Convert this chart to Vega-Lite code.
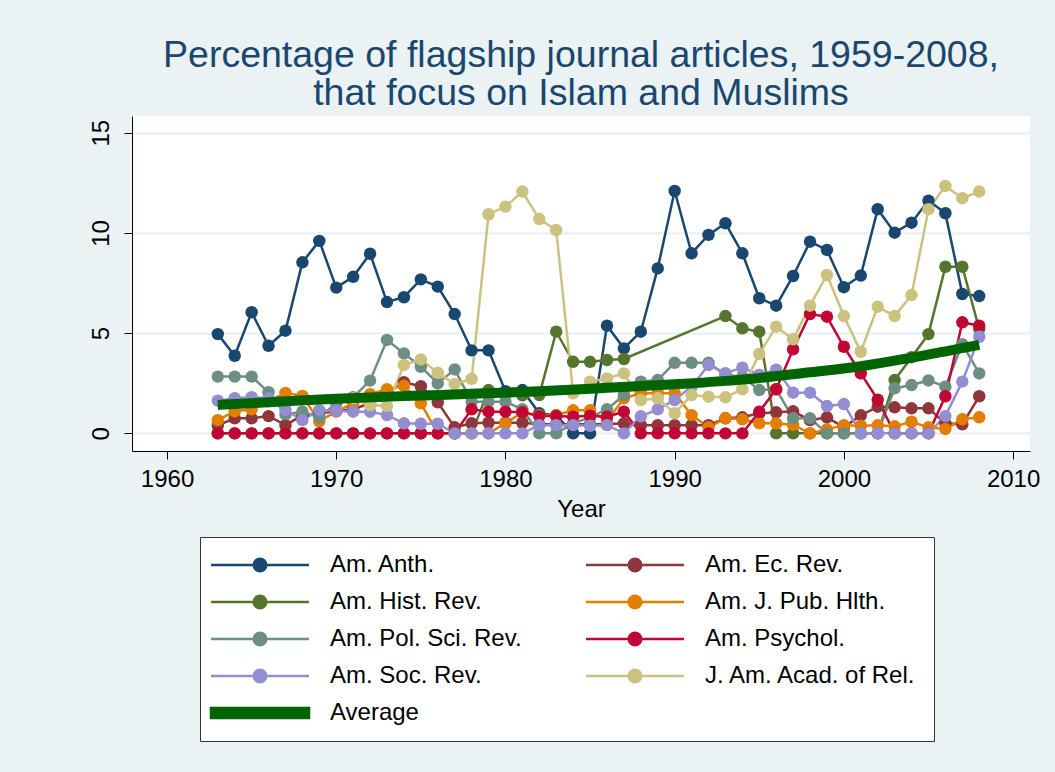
{
  "$schema": "https://vega.github.io/schema/vega-lite/v6.json",
  "autosize": {"type": "none"},
  "width": 898,
  "height": 335,
  "padding": {"left": 132, "top": 116, "right": 25, "bottom": 321},
  "background": "#EAF2F3",
  "title": {
    "text": ["Percentage of flagship journal articles, 1959-2008,", "that focus on Islam and Muslims"],
    "anchor": "middle",
    "frame": "group",
    "font": "Liberation Sans",
    "fontSize": 37.5,
    "fontWeight": "normal",
    "color": "#1A476F",
    "lineHeight": 38,
    "offset": 4
  },
  "config": {
    "view": {"fill": "white", "stroke": null},
    "font": "Liberation Sans"
  },
  "datasets": {
    "rows": [
      {"journal":"Am. Anth.","year":1963,"pct":4.95},{"journal":"Am. Anth.","year":1964,"pct":3.87},{"journal":"Am. Anth.","year":1965,"pct":6.04},{"journal":"Am. Anth.","year":1966,"pct":4.37},{"journal":"Am. Anth.","year":1967,"pct":5.12},{"journal":"Am. Anth.","year":1968,"pct":8.53},{"journal":"Am. Anth.","year":1969,"pct":9.6},{"journal":"Am. Anth.","year":1970,"pct":7.27},{"journal":"Am. Anth.","year":1971,"pct":7.81},{"journal":"Am. Anth.","year":1972,"pct":8.96},{"journal":"Am. Anth.","year":1973,"pct":6.55},{"journal":"Am. Anth.","year":1974,"pct":6.79},{"journal":"Am. Anth.","year":1975,"pct":7.68},{"journal":"Am. Anth.","year":1976,"pct":7.32},{"journal":"Am. Anth.","year":1977,"pct":5.95},{"journal":"Am. Anth.","year":1978,"pct":4.14},{"journal":"Am. Anth.","year":1979,"pct":4.14},{"journal":"Am. Anth.","year":1980,"pct":2.1},{"journal":"Am. Anth.","year":1981,"pct":2.16},{"journal":"Am. Anth.","year":1982,"pct":1.0},{"journal":"Am. Anth.","year":1983,"pct":0.9},{"journal":"Am. Anth.","year":1984,"pct":0},{"journal":"Am. Anth.","year":1985,"pct":0},{"journal":"Am. Anth.","year":1986,"pct":5.37},{"journal":"Am. Anth.","year":1987,"pct":4.24},{"journal":"Am. Anth.","year":1988,"pct":5.07},{"journal":"Am. Anth.","year":1989,"pct":8.23},{"journal":"Am. Anth.","year":1990,"pct":12.09},{"journal":"Am. Anth.","year":1991,"pct":8.98},{"journal":"Am. Anth.","year":1992,"pct":9.9},{"journal":"Am. Anth.","year":1993,"pct":10.48},{"journal":"Am. Anth.","year":1994,"pct":8.98},{"journal":"Am. Anth.","year":1995,"pct":6.74},{"journal":"Am. Anth.","year":1996,"pct":6.37},{"journal":"Am. Anth.","year":1997,"pct":7.85},{"journal":"Am. Anth.","year":1998,"pct":9.56},{"journal":"Am. Anth.","year":1999,"pct":9.15},{"journal":"Am. Anth.","year":2000,"pct":7.29},{"journal":"Am. Anth.","year":2001,"pct":7.87},{"journal":"Am. Anth.","year":2002,"pct":11.18},{"journal":"Am. Anth.","year":2003,"pct":10.01},{"journal":"Am. Anth.","year":2004,"pct":10.51},{"journal":"Am. Anth.","year":2005,"pct":11.61},{"journal":"Am. Anth.","year":2006,"pct":10.98},{"journal":"Am. Anth.","year":2007,"pct":6.95},{"journal":"Am. Anth.","year":2008,"pct":6.85},

      {"journal":"Am. Ec. Rev.","year":1963,"pct":0.4},{"journal":"Am. Ec. Rev.","year":1964,"pct":0.75},{"journal":"Am. Ec. Rev.","year":1965,"pct":0.75},{"journal":"Am. Ec. Rev.","year":1966,"pct":0.86},{"journal":"Am. Ec. Rev.","year":1967,"pct":0.41},{"journal":"Am. Ec. Rev.","year":1968,"pct":0.9},{"journal":"Am. Ec. Rev.","year":1969,"pct":1.0},{"journal":"Am. Ec. Rev.","year":1970,"pct":1.1},{"journal":"Am. Ec. Rev.","year":1971,"pct":1.2},{"journal":"Am. Ec. Rev.","year":1972,"pct":1.5},{"journal":"Am. Ec. Rev.","year":1973,"pct":2.0},{"journal":"Am. Ec. Rev.","year":1974,"pct":2.55},{"journal":"Am. Ec. Rev.","year":1975,"pct":2.35},{"journal":"Am. Ec. Rev.","year":1976,"pct":1.55},{"journal":"Am. Ec. Rev.","year":1977,"pct":0.3},{"journal":"Am. Ec. Rev.","year":1978,"pct":0.5},{"journal":"Am. Ec. Rev.","year":1979,"pct":0.53},{"journal":"Am. Ec. Rev.","year":1980,"pct":0.53},{"journal":"Am. Ec. Rev.","year":1981,"pct":0.53},{"journal":"Am. Ec. Rev.","year":1982,"pct":0.45},{"journal":"Am. Ec. Rev.","year":1983,"pct":0.45},{"journal":"Am. Ec. Rev.","year":1984,"pct":0.45},{"journal":"Am. Ec. Rev.","year":1985,"pct":0.45},{"journal":"Am. Ec. Rev.","year":1986,"pct":0.45},{"journal":"Am. Ec. Rev.","year":1987,"pct":0.5},{"journal":"Am. Ec. Rev.","year":1988,"pct":0.41},{"journal":"Am. Ec. Rev.","year":1989,"pct":0.41},{"journal":"Am. Ec. Rev.","year":1990,"pct":0.41},{"journal":"Am. Ec. Rev.","year":1991,"pct":0.41},{"journal":"Am. Ec. Rev.","year":1992,"pct":0.41},{"journal":"Am. Ec. Rev.","year":1993,"pct":0.75},{"journal":"Am. Ec. Rev.","year":1994,"pct":0.8},{"journal":"Am. Ec. Rev.","year":1995,"pct":1.0},{"journal":"Am. Ec. Rev.","year":1996,"pct":1.05},{"journal":"Am. Ec. Rev.","year":1997,"pct":1.1},{"journal":"Am. Ec. Rev.","year":1998,"pct":0.66},{"journal":"Am. Ec. Rev.","year":1999,"pct":0.8},{"journal":"Am. Ec. Rev.","year":2000,"pct":0.3},{"journal":"Am. Ec. Rev.","year":2001,"pct":0.9},{"journal":"Am. Ec. Rev.","year":2002,"pct":1.33},{"journal":"Am. Ec. Rev.","year":2003,"pct":1.3},{"journal":"Am. Ec. Rev.","year":2004,"pct":1.25},{"journal":"Am. Ec. Rev.","year":2005,"pct":1.25},{"journal":"Am. Ec. Rev.","year":2006,"pct":0.5},{"journal":"Am. Ec. Rev.","year":2007,"pct":0.45},{"journal":"Am. Ec. Rev.","year":2008,"pct":1.85},

      {"journal":"Am. Hist. Rev.","year":1963,"pct":0},{"journal":"Am. Hist. Rev.","year":1964,"pct":0},{"journal":"Am. Hist. Rev.","year":1965,"pct":0},{"journal":"Am. Hist. Rev.","year":1966,"pct":0},{"journal":"Am. Hist. Rev.","year":1967,"pct":0},{"journal":"Am. Hist. Rev.","year":1968,"pct":0},{"journal":"Am. Hist. Rev.","year":1969,"pct":0},{"journal":"Am. Hist. Rev.","year":1970,"pct":0},{"journal":"Am. Hist. Rev.","year":1971,"pct":0},{"journal":"Am. Hist. Rev.","year":1972,"pct":0},{"journal":"Am. Hist. Rev.","year":1973,"pct":0},{"journal":"Am. Hist. Rev.","year":1974,"pct":0},{"journal":"Am. Hist. Rev.","year":1975,"pct":0},{"journal":"Am. Hist. Rev.","year":1976,"pct":0},{"journal":"Am. Hist. Rev.","year":1977,"pct":0},{"journal":"Am. Hist. Rev.","year":1978,"pct":0},{"journal":"Am. Hist. Rev.","year":1979,"pct":2.16},{"journal":"Am. Hist. Rev.","year":1980,"pct":1.95},{"journal":"Am. Hist. Rev.","year":1981,"pct":1.9},{"journal":"Am. Hist. Rev.","year":1982,"pct":1.91},{"journal":"Am. Hist. Rev.","year":1983,"pct":5.07},{"journal":"Am. Hist. Rev.","year":1984,"pct":3.57},{"journal":"Am. Hist. Rev.","year":1985,"pct":3.57},{"journal":"Am. Hist. Rev.","year":1986,"pct":3.66},{"journal":"Am. Hist. Rev.","year":1987,"pct":3.71},{"journal":"Am. Hist. Rev.","year":1993,"pct":5.85},{"journal":"Am. Hist. Rev.","year":1994,"pct":5.24},{"journal":"Am. Hist. Rev.","year":1995,"pct":5.07},{"journal":"Am. Hist. Rev.","year":1996,"pct":0},{"journal":"Am. Hist. Rev.","year":1997,"pct":0},{"journal":"Am. Hist. Rev.","year":1998,"pct":0},{"journal":"Am. Hist. Rev.","year":1999,"pct":0},{"journal":"Am. Hist. Rev.","year":2000,"pct":0},{"journal":"Am. Hist. Rev.","year":2001,"pct":0},{"journal":"Am. Hist. Rev.","year":2002,"pct":0},{"journal":"Am. Hist. Rev.","year":2003,"pct":2.66},{"journal":"Am. Hist. Rev.","year":2004,"pct":3.8},{"journal":"Am. Hist. Rev.","year":2005,"pct":4.95},{"journal":"Am. Hist. Rev.","year":2006,"pct":8.31},{"journal":"Am. Hist. Rev.","year":2007,"pct":8.31},{"journal":"Am. Hist. Rev.","year":2008,"pct":5.2},

      {"journal":"Am. J. Pub. Hlth.","year":1963,"pct":0.66},{"journal":"Am. J. Pub. Hlth.","year":1964,"pct":1.1},{"journal":"Am. J. Pub. Hlth.","year":1965,"pct":1.2},{"journal":"Am. J. Pub. Hlth.","year":1966,"pct":1.6},{"journal":"Am. J. Pub. Hlth.","year":1967,"pct":2.02},{"journal":"Am. J. Pub. Hlth.","year":1968,"pct":1.87},{"journal":"Am. J. Pub. Hlth.","year":1969,"pct":0.6},{"journal":"Am. J. Pub. Hlth.","year":1970,"pct":1.1},{"journal":"Am. J. Pub. Hlth.","year":1971,"pct":1.5},{"journal":"Am. J. Pub. Hlth.","year":1972,"pct":1.95},{"journal":"Am. J. Pub. Hlth.","year":1973,"pct":2.2},{"journal":"Am. J. Pub. Hlth.","year":1974,"pct":2.37},{"journal":"Am. J. Pub. Hlth.","year":1975,"pct":1.5},{"journal":"Am. J. Pub. Hlth.","year":1976,"pct":0},{"journal":"Am. J. Pub. Hlth.","year":1977,"pct":0},{"journal":"Am. J. Pub. Hlth.","year":1978,"pct":0},{"journal":"Am. J. Pub. Hlth.","year":1979,"pct":0},{"journal":"Am. J. Pub. Hlth.","year":1980,"pct":0.5},{"journal":"Am. J. Pub. Hlth.","year":1981,"pct":1.05},{"journal":"Am. J. Pub. Hlth.","year":1982,"pct":0.9},{"journal":"Am. J. Pub. Hlth.","year":1983,"pct":0.9},{"journal":"Am. J. Pub. Hlth.","year":1984,"pct":1.15},{"journal":"Am. J. Pub. Hlth.","year":1985,"pct":1.15},{"journal":"Am. J. Pub. Hlth.","year":1986,"pct":0.6},{"journal":"Am. J. Pub. Hlth.","year":1987,"pct":1.75},{"journal":"Am. J. Pub. Hlth.","year":1988,"pct":2.0},{"journal":"Am. J. Pub. Hlth.","year":1989,"pct":2.0},{"journal":"Am. J. Pub. Hlth.","year":1990,"pct":2.0},{"journal":"Am. J. Pub. Hlth.","year":1991,"pct":0.91},{"journal":"Am. J. Pub. Hlth.","year":1992,"pct":0.3},{"journal":"Am. J. Pub. Hlth.","year":1993,"pct":0.75},{"journal":"Am. J. Pub. Hlth.","year":1994,"pct":0.7},{"journal":"Am. J. Pub. Hlth.","year":1995,"pct":0.5},{"journal":"Am. J. Pub. Hlth.","year":1996,"pct":0.5},{"journal":"Am. J. Pub. Hlth.","year":1997,"pct":0.42},{"journal":"Am. J. Pub. Hlth.","year":1998,"pct":0},{"journal":"Am. J. Pub. Hlth.","year":1999,"pct":0.2},{"journal":"Am. J. Pub. Hlth.","year":2000,"pct":0.41},{"journal":"Am. J. Pub. Hlth.","year":2001,"pct":0.38},{"journal":"Am. J. Pub. Hlth.","year":2002,"pct":0.4},{"journal":"Am. J. Pub. Hlth.","year":2003,"pct":0.35},{"journal":"Am. J. Pub. Hlth.","year":2004,"pct":0.58},{"journal":"Am. J. Pub. Hlth.","year":2005,"pct":0.3},{"journal":"Am. J. Pub. Hlth.","year":2006,"pct":0.22},{"journal":"Am. J. Pub. Hlth.","year":2007,"pct":0.7},{"journal":"Am. J. Pub. Hlth.","year":2008,"pct":0.8},

      {"journal":"Am. Pol. Sci. Rev.","year":1963,"pct":2.83},{"journal":"Am. Pol. Sci. Rev.","year":1964,"pct":2.83},{"journal":"Am. Pol. Sci. Rev.","year":1965,"pct":2.83},{"journal":"Am. Pol. Sci. Rev.","year":1966,"pct":2.05},{"journal":"Am. Pol. Sci. Rev.","year":1967,"pct":0.95},{"journal":"Am. Pol. Sci. Rev.","year":1968,"pct":1.08},{"journal":"Am. Pol. Sci. Rev.","year":1969,"pct":0.8},{"journal":"Am. Pol. Sci. Rev.","year":1970,"pct":1.5},{"journal":"Am. Pol. Sci. Rev.","year":1971,"pct":1.8},{"journal":"Am. Pol. Sci. Rev.","year":1972,"pct":2.63},{"journal":"Am. Pol. Sci. Rev.","year":1973,"pct":4.66},{"journal":"Am. Pol. Sci. Rev.","year":1974,"pct":3.99},{"journal":"Am. Pol. Sci. Rev.","year":1975,"pct":3.32},{"journal":"Am. Pol. Sci. Rev.","year":1976,"pct":2.49},{"journal":"Am. Pol. Sci. Rev.","year":1977,"pct":3.19},{"journal":"Am. Pol. Sci. Rev.","year":1978,"pct":1.58},{"journal":"Am. Pol. Sci. Rev.","year":1979,"pct":1.58},{"journal":"Am. Pol. Sci. Rev.","year":1980,"pct":1.58},{"journal":"Am. Pol. Sci. Rev.","year":1981,"pct":1.2},{"journal":"Am. Pol. Sci. Rev.","year":1982,"pct":0},{"journal":"Am. Pol. Sci. Rev.","year":1983,"pct":0},{"journal":"Am. Pol. Sci. Rev.","year":1984,"pct":0.5},{"journal":"Am. Pol. Sci. Rev.","year":1985,"pct":0.8},{"journal":"Am. Pol. Sci. Rev.","year":1986,"pct":1.2},{"journal":"Am. Pol. Sci. Rev.","year":1987,"pct":1.9},{"journal":"Am. Pol. Sci. Rev.","year":1988,"pct":2.58},{"journal":"Am. Pol. Sci. Rev.","year":1989,"pct":2.66},{"journal":"Am. Pol. Sci. Rev.","year":1990,"pct":3.52},{"journal":"Am. Pol. Sci. Rev.","year":1991,"pct":3.52},{"journal":"Am. Pol. Sci. Rev.","year":1992,"pct":3.52},{"journal":"Am. Pol. Sci. Rev.","year":1993,"pct":2.91},{"journal":"Am. Pol. Sci. Rev.","year":1994,"pct":2.83},{"journal":"Am. Pol. Sci. Rev.","year":1995,"pct":2.16},{"journal":"Am. Pol. Sci. Rev.","year":1996,"pct":2.2},{"journal":"Am. Pol. Sci. Rev.","year":1997,"pct":0.75},{"journal":"Am. Pol. Sci. Rev.","year":1998,"pct":0.75},{"journal":"Am. Pol. Sci. Rev.","year":1999,"pct":0},{"journal":"Am. Pol. Sci. Rev.","year":2000,"pct":0},{"journal":"Am. Pol. Sci. Rev.","year":2001,"pct":0},{"journal":"Am. Pol. Sci. Rev.","year":2002,"pct":0},{"journal":"Am. Pol. Sci. Rev.","year":2003,"pct":2.25},{"journal":"Am. Pol. Sci. Rev.","year":2004,"pct":2.41},{"journal":"Am. Pol. Sci. Rev.","year":2005,"pct":2.64},{"journal":"Am. Pol. Sci. Rev.","year":2006,"pct":2.33},{"journal":"Am. Pol. Sci. Rev.","year":2007,"pct":4.45},{"journal":"Am. Pol. Sci. Rev.","year":2008,"pct":2.99},

      {"journal":"Am. Psychol.","year":1963,"pct":0},{"journal":"Am. Psychol.","year":1964,"pct":0},{"journal":"Am. Psychol.","year":1965,"pct":0},{"journal":"Am. Psychol.","year":1966,"pct":0},{"journal":"Am. Psychol.","year":1967,"pct":0},{"journal":"Am. Psychol.","year":1968,"pct":0},{"journal":"Am. Psychol.","year":1969,"pct":0},{"journal":"Am. Psychol.","year":1970,"pct":0},{"journal":"Am. Psychol.","year":1971,"pct":0},{"journal":"Am. Psychol.","year":1972,"pct":0},{"journal":"Am. Psychol.","year":1973,"pct":0},{"journal":"Am. Psychol.","year":1974,"pct":0},{"journal":"Am. Psychol.","year":1975,"pct":0},{"journal":"Am. Psychol.","year":1976,"pct":0},{"journal":"Am. Psychol.","year":1977,"pct":0},{"journal":"Am. Psychol.","year":1978,"pct":1.2},{"journal":"Am. Psychol.","year":1979,"pct":1.08},{"journal":"Am. Psychol.","year":1980,"pct":1.08},{"journal":"Am. Psychol.","year":1981,"pct":1.05},{"journal":"Am. Psychol.","year":1982,"pct":0.86},{"journal":"Am. Psychol.","year":1983,"pct":0.86},{"journal":"Am. Psychol.","year":1984,"pct":0.83},{"journal":"Am. Psychol.","year":1985,"pct":0.88},{"journal":"Am. Psychol.","year":1986,"pct":0.83},{"journal":"Am. Psychol.","year":1987,"pct":1.08},{"journal":"Am. Psychol.","year":1988,"pct":0},{"journal":"Am. Psychol.","year":1989,"pct":0},{"journal":"Am. Psychol.","year":1990,"pct":0},{"journal":"Am. Psychol.","year":1991,"pct":0},{"journal":"Am. Psychol.","year":1992,"pct":0},{"journal":"Am. Psychol.","year":1993,"pct":0},{"journal":"Am. Psychol.","year":1994,"pct":0},{"journal":"Am. Psychol.","year":1995,"pct":1.08},{"journal":"Am. Psychol.","year":1996,"pct":2.2},{"journal":"Am. Psychol.","year":1997,"pct":4.19},{"journal":"Am. Psychol.","year":1998,"pct":5.95},{"journal":"Am. Psychol.","year":1999,"pct":5.82},{"journal":"Am. Psychol.","year":2000,"pct":4.32},{"journal":"Am. Psychol.","year":2001,"pct":2.99},{"journal":"Am. Psychol.","year":2002,"pct":1.68},{"journal":"Am. Psychol.","year":2003,"pct":0},{"journal":"Am. Psychol.","year":2004,"pct":0},{"journal":"Am. Psychol.","year":2005,"pct":0},{"journal":"Am. Psychol.","year":2006,"pct":1.85},{"journal":"Am. Psychol.","year":2007,"pct":5.54},{"journal":"Am. Psychol.","year":2008,"pct":5.37},

      {"journal":"Am. Soc. Rev.","year":1963,"pct":1.63},{"journal":"Am. Soc. Rev.","year":1964,"pct":1.75},{"journal":"Am. Soc. Rev.","year":1965,"pct":1.8},{"journal":"Am. Soc. Rev.","year":1966,"pct":1.75},{"journal":"Am. Soc. Rev.","year":1967,"pct":1.16},{"journal":"Am. Soc. Rev.","year":1968,"pct":0.66},{"journal":"Am. Soc. Rev.","year":1969,"pct":1.16},{"journal":"Am. Soc. Rev.","year":1970,"pct":1.13},{"journal":"Am. Soc. Rev.","year":1971,"pct":1.08},{"journal":"Am. Soc. Rev.","year":1972,"pct":1.08},{"journal":"Am. Soc. Rev.","year":1973,"pct":0.91},{"journal":"Am. Soc. Rev.","year":1974,"pct":0.5},{"journal":"Am. Soc. Rev.","year":1975,"pct":0.48},{"journal":"Am. Soc. Rev.","year":1976,"pct":0.48},{"journal":"Am. Soc. Rev.","year":1977,"pct":0},{"journal":"Am. Soc. Rev.","year":1978,"pct":0},{"journal":"Am. Soc. Rev.","year":1979,"pct":0},{"journal":"Am. Soc. Rev.","year":1980,"pct":0},{"journal":"Am. Soc. Rev.","year":1981,"pct":0},{"journal":"Am. Soc. Rev.","year":1982,"pct":0.41},{"journal":"Am. Soc. Rev.","year":1983,"pct":0.41},{"journal":"Am. Soc. Rev.","year":1984,"pct":0.41},{"journal":"Am. Soc. Rev.","year":1985,"pct":0.38},{"journal":"Am. Soc. Rev.","year":1986,"pct":0.41},{"journal":"Am. Soc. Rev.","year":1987,"pct":0},{"journal":"Am. Soc. Rev.","year":1988,"pct":0.85},{"journal":"Am. Soc. Rev.","year":1989,"pct":1.2},{"journal":"Am. Soc. Rev.","year":1990,"pct":1.66},{"journal":"Am. Soc. Rev.","year":1991,"pct":2.33},{"journal":"Am. Soc. Rev.","year":1992,"pct":3.41},{"journal":"Am. Soc. Rev.","year":1993,"pct":3.0},{"journal":"Am. Soc. Rev.","year":1994,"pct":3.28},{"journal":"Am. Soc. Rev.","year":1995,"pct":2.91},{"journal":"Am. Soc. Rev.","year":1996,"pct":3.18},{"journal":"Am. Soc. Rev.","year":1997,"pct":2.03},{"journal":"Am. Soc. Rev.","year":1998,"pct":2.03},{"journal":"Am. Soc. Rev.","year":1999,"pct":1.36},{"journal":"Am. Soc. Rev.","year":2000,"pct":1.46},{"journal":"Am. Soc. Rev.","year":2001,"pct":0},{"journal":"Am. Soc. Rev.","year":2002,"pct":0},{"journal":"Am. Soc. Rev.","year":2003,"pct":0},{"journal":"Am. Soc. Rev.","year":2004,"pct":0},{"journal":"Am. Soc. Rev.","year":2005,"pct":0},{"journal":"Am. Soc. Rev.","year":2006,"pct":0.86},{"journal":"Am. Soc. Rev.","year":2007,"pct":2.58},{"journal":"Am. Soc. Rev.","year":2008,"pct":4.82},

      {"journal":"J. Am. Acad. of Rel.","year":1971,"pct":1.75},{"journal":"J. Am. Acad. of Rel.","year":1972,"pct":1.41},{"journal":"J. Am. Acad. of Rel.","year":1973,"pct":1.36},{"journal":"J. Am. Acad. of Rel.","year":1974,"pct":3.41},{"journal":"J. Am. Acad. of Rel.","year":1975,"pct":3.69},{"journal":"J. Am. Acad. of Rel.","year":1976,"pct":3.02},{"journal":"J. Am. Acad. of Rel.","year":1977,"pct":2.46},{"journal":"J. Am. Acad. of Rel.","year":1978,"pct":2.72},{"journal":"J. Am. Acad. of Rel.","year":1979,"pct":10.93},{"journal":"J. Am. Acad. of Rel.","year":1980,"pct":11.31},{"journal":"J. Am. Acad. of Rel.","year":1981,"pct":12.06},{"journal":"J. Am. Acad. of Rel.","year":1982,"pct":10.69},{"journal":"J. Am. Acad. of Rel.","year":1983,"pct":10.14},{"journal":"J. Am. Acad. of Rel.","year":1984,"pct":2.0},{"journal":"J. Am. Acad. of Rel.","year":1985,"pct":2.58},{"journal":"J. Am. Acad. of Rel.","year":1986,"pct":2.74},{"journal":"J. Am. Acad. of Rel.","year":1987,"pct":2.99},{"journal":"J. Am. Acad. of Rel.","year":1988,"pct":1.66},{"journal":"J. Am. Acad. of Rel.","year":1989,"pct":1.75},{"journal":"J. Am. Acad. of Rel.","year":1990,"pct":1.0},{"journal":"J. Am. Acad. of Rel.","year":1991,"pct":1.91},{"journal":"J. Am. Acad. of Rel.","year":1992,"pct":1.83},{"journal":"J. Am. Acad. of Rel.","year":1993,"pct":1.8},{"journal":"J. Am. Acad. of Rel.","year":1994,"pct":2.2},{"journal":"J. Am. Acad. of Rel.","year":1995,"pct":3.96},{"journal":"J. Am. Acad. of Rel.","year":1996,"pct":5.32},{"journal":"J. Am. Acad. of Rel.","year":1997,"pct":4.69},{"journal":"J. Am. Acad. of Rel.","year":1998,"pct":6.37},{"journal":"J. Am. Acad. of Rel.","year":1999,"pct":7.9},{"journal":"J. Am. Acad. of Rel.","year":2000,"pct":5.85},{"journal":"J. Am. Acad. of Rel.","year":2001,"pct":4.07},{"journal":"J. Am. Acad. of Rel.","year":2002,"pct":6.32},{"journal":"J. Am. Acad. of Rel.","year":2003,"pct":5.85},{"journal":"J. Am. Acad. of Rel.","year":2004,"pct":6.9},{"journal":"J. Am. Acad. of Rel.","year":2005,"pct":11.18},{"journal":"J. Am. Acad. of Rel.","year":2006,"pct":12.34},{"journal":"J. Am. Acad. of Rel.","year":2007,"pct":11.73},{"journal":"J. Am. Acad. of Rel.","year":2008,"pct":12.06},

      {"journal":"Average","year":1963,"pct":1.42},{"journal":"Average","year":1966,"pct":1.55},{"journal":"Average","year":1970,"pct":1.73},{"journal":"Average","year":1974,"pct":1.86},{"journal":"Average","year":1978,"pct":1.97},{"journal":"Average","year":1982,"pct":2.1},{"journal":"Average","year":1986,"pct":2.27},{"journal":"Average","year":1990,"pct":2.45},{"journal":"Average","year":1994,"pct":2.68},{"journal":"Average","year":1998,"pct":3.05},{"journal":"Average","year":2001,"pct":3.35},{"journal":"Average","year":2004,"pct":3.78},{"journal":"Average","year":2008,"pct":4.42}
    ]
  },
  "data": {"name": "rows"},
  "encoding": {
    "x": {
      "field": "year", "type": "quantitative",
      "scale": {"domain": [1957.93, 2011.0], "nice": false, "zero": false},
      "axis": {
        "values": [1960, 1970, 1980, 1990, 2000, 2010], "format": "d",
        "title": "Year", "grid": false,
        "labelFont": "Liberation Sans", "labelFontSize": 24, "labelColor": "black",
        "titleFont": "Liberation Sans", "titleFontSize": 24, "titleFontWeight": "normal", "titleColor": "black",
        "titlePadding": 6, "labelPadding": 8,
        "domainColor": "black", "domainWidth": 1, "tickColor": "black", "tickWidth": 1, "tickSize": 8
      }
    },
    "y": {
      "field": "pct", "type": "quantitative",
      "scale": {"domain": [-0.88, 15.83], "nice": false, "zero": false},
      "axis": {
        "values": [0, 5, 10, 15], "title": null,
        "labelAngle": -90, "labelAlign": "center", "labelBaseline": "bottom",
        "labelFont": "Liberation Sans", "labelFontSize": 24, "labelColor": "black", "labelPadding": 11,
        "domainColor": "black", "domainWidth": 1, "tickColor": "black", "tickWidth": 1, "tickSize": 8,
        "grid": true, "gridColor": "#EAF2F3", "gridWidth": 2.5
      }
    },
    "color": {
      "field": "journal", "type": "nominal",
      "scale": {
        "domain": ["Am. Anth.", "Am. Ec. Rev.", "Am. Hist. Rev.", "Am. J. Pub. Hlth.", "Am. Pol. Sci. Rev.", "Am. Psychol.", "Am. Soc. Rev.", "J. Am. Acad. of Rel.", "Average"],
        "range": ["#1A476F", "#90353B", "#55752F", "#E37E00", "#6E8E84", "#C10534", "#938DD2", "#CAC27E", "#006400"]
      },
      "legend": {
        "title": null,
        "orient": "none",
        "legendX": 68,
        "legendY": 421,
        "columns": 2,
        "direction": "horizontal",
        "padding": 16,
        "fillColor": "white",
        "strokeColor": "#333333",
        "labelFont": "Liberation Sans",
        "labelFontSize": 24,
        "labelColor": "black",
        "labelLimit": 400,
        "symbolSize": 196,
        "symbolOffset": 32,
        "labelOffset": 58,
        "columnPadding": 59,
        "rowPadding": 13,
        "encode": {
          "symbols": {
            "update": {
              "shape": {"signal": "datum.value === 'Average' ? 'M-7,-0.72L7,-0.72L7,0.72L-7,0.72Z' : 'M-7,0L7,0M-0.9,0A0.9,0.9,0,1,0,0.9,0A0.9,0.9,0,1,0,-0.9,0Z'"},
              "fill": {"scale": "color", "field": "value"},
              "stroke": {"scale": "color", "field": "value"},
              "strokeWidth": {"value": 2.5},
              "size": {"value": 196},
              "opacity": {"value": 1},
              "fillOpacity": {"value": 1},
              "strokeOpacity": {"value": 1}
            }
          }
        }
      }
    }
  },
  "layer": [
    {
      "transform": [{"filter": "datum.journal !== 'Average'"}],
      "mark": {"type": "line", "strokeWidth": 2.5}
    },
    {
      "transform": [{"filter": "datum.journal !== 'Average'"}],
      "mark": {"type": "point", "filled": true, "size": 155, "opacity": 1, "strokeWidth": 0}
    },
    {
      "transform": [{"filter": "datum.journal === 'Average'"}],
      "mark": {"type": "line", "strokeWidth": 10, "interpolate": "monotone"}
    }
  ]
}
